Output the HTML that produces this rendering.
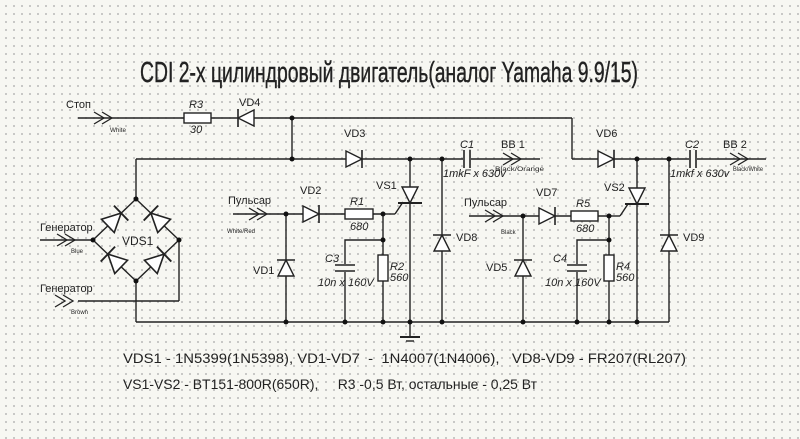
<!DOCTYPE html>
<html><head><meta charset="utf-8"><style>
html,body{margin:0;padding:0;}
body{width:800px;height:439px;overflow:hidden;background-color:#f7f7f2;
background-image:radial-gradient(circle,#b8b8b8 0.8px,transparent 1px);background-size:8px 8px;background-position:2px 2px;}
svg{position:absolute;left:0;top:0;}
text{font-family:"Liberation Sans","Noto Sans CJK SC",sans-serif;fill:#222;white-space:pre;}
</style></head><body>
<svg width="800" height="439" viewBox="0 0 800 439" xml:space="preserve">
<defs>
<g id="d"><polygon points="-8,-8 -8,8 8,0" fill="#fff" stroke="#222" stroke-width="1.4"/><line x1="8" y1="-9" x2="8" y2="9" stroke="#222" stroke-width="1.6"/></g>
<g id="ar"><polyline points="0,-6 10,0 0,6" fill="none" stroke="#222" stroke-width="1.3"/><polyline points="8,-6 18,0 8,6" fill="none" stroke="#222" stroke-width="1.3"/></g>
</defs>
<g stroke="#222" stroke-width="1.4" fill="none">
<line x1="78" y1="118" x2="572" y2="118"/>
<line x1="572" y1="118" x2="572" y2="159"/>
<line x1="292" y1="118" x2="292" y2="159"/>
<line x1="136" y1="159" x2="540" y2="159"/>
<line x1="572" y1="159" x2="766" y2="159"/>
<line x1="136" y1="159" x2="136" y2="199"/>
<polygon points="136,199 179,240 136,281 93,240"/>
<line x1="40" y1="240" x2="93" y2="240"/>
<line x1="179" y1="240" x2="179" y2="301"/>
<line x1="179" y1="301" x2="78" y2="301"/>
<line x1="136" y1="281" x2="136" y2="322"/>
<line x1="136" y1="322" x2="669" y2="322"/>
<line x1="233" y1="214" x2="383" y2="214"/>
<line x1="383" y1="214" x2="395" y2="214"/><line x1="395" y1="214" x2="403" y2="202"/>
<line x1="286" y1="214" x2="286" y2="322"/>
<line x1="383" y1="214" x2="383" y2="322"/>
<polyline points="383,240 345,240 345,322"/>
<line x1="410" y1="159" x2="410" y2="337"/>
<line x1="442" y1="159" x2="442" y2="322"/>
<line x1="400" y1="337" x2="420" y2="337" stroke-width="2"/>
<line x1="406" y1="341" x2="414" y2="341"/>
<line x1="469" y1="216" x2="609" y2="216"/>
<line x1="609" y1="216" x2="620" y2="216"/><line x1="620" y1="216" x2="628" y2="204"/>
<line x1="523" y1="216" x2="523" y2="322"/>
<line x1="609" y1="216" x2="609" y2="322"/>
<polyline points="609,240 577,240 577,322"/>
<line x1="637" y1="159" x2="637" y2="322"/>
<line x1="669" y1="159" x2="669" y2="322"/>
</g>
<g stroke="#222" stroke-width="1.4" fill="#fff">
<rect x="184" y="113" width="27" height="10"/>
<rect x="345" y="209" width="28" height="10"/>
<rect x="378" y="255" width="10" height="26"/>
<rect x="571" y="211" width="27" height="10"/>
<rect x="604" y="255" width="10" height="26"/>
<rect x="463" y="150" width="8" height="18" stroke="none" fill="#f7f7f2"/>
<rect x="689" y="150" width="8" height="18" stroke="none" fill="#f7f7f2"/>
<rect x="335" y="264" width="20" height="8" stroke="none" fill="#f7f7f2"/>
<rect x="567" y="264" width="20" height="8" stroke="none" fill="#f7f7f2"/>
</g>
<g stroke="#222" stroke-width="1.6">
<line x1="464" y1="150" x2="464" y2="168"/><line x1="470" y1="150" x2="470" y2="168"/>
<line x1="690" y1="150" x2="690" y2="168"/><line x1="696" y1="150" x2="696" y2="168"/>
<line x1="335" y1="265" x2="355" y2="265"/><line x1="335" y1="271" x2="355" y2="271"/>
<line x1="567" y1="265" x2="587" y2="265"/><line x1="567" y1="271" x2="587" y2="271"/>
</g>
<use href="#d" transform="translate(246,118) rotate(180)"/>
<use href="#d" transform="translate(354,159)"/>
<use href="#d" transform="translate(311,214)"/>
<use href="#d" transform="translate(547,216)"/>
<use href="#d" transform="translate(606,159)"/>
<use href="#d" transform="translate(286,268) rotate(-90)"/>
<use href="#d" transform="translate(523,268) rotate(-90)"/>
<use href="#d" transform="translate(442,243) rotate(-90)"/>
<use href="#d" transform="translate(669,243) rotate(-90)"/>
<use href="#d" transform="translate(410,195) rotate(90)"/>
<use href="#d" transform="translate(637,196) rotate(90)"/>
<line x1="398" y1="203" x2="422" y2="203" stroke="#222" stroke-width="2"/>
<line x1="625" y1="204" x2="649" y2="204" stroke="#222" stroke-width="2"/>
<use href="#d" transform="translate(114.5,219.5) rotate(-44) scale(1.15)"/>
<use href="#d" transform="translate(157.5,219.5) rotate(-136) scale(1.15)"/>
<use href="#d" transform="translate(114.5,260.5) rotate(-136) scale(1.15)"/>
<use href="#d" transform="translate(157.5,260.5) rotate(-44) scale(1.15)"/>
<use href="#ar" transform="translate(94,118)"/>
<use href="#ar" transform="translate(57,240)"/>
<use href="#ar" transform="translate(55,301)"/>
<use href="#ar" transform="translate(249,214)"/>
<use href="#ar" transform="translate(485,216)"/>
<use href="#ar" transform="translate(503,159)"/>
<use href="#ar" transform="translate(730,159)"/>
<g fill="#111">
<circle cx="292" cy="118" r="2.5"/><circle cx="292" cy="159" r="2.5"/>
<circle cx="410" cy="159" r="2.5"/><circle cx="442" cy="159" r="2.5"/>
<circle cx="637" cy="159" r="2.5"/><circle cx="669" cy="159" r="2.5"/>
<circle cx="136" cy="199" r="2.5"/><circle cx="136" cy="281" r="2.5"/>
<circle cx="93" cy="240" r="2.5"/><circle cx="179" cy="240" r="2.5"/>
<circle cx="286" cy="214" r="2.5"/><circle cx="383" cy="214" r="2.5"/><circle cx="383" cy="240" r="2.5"/>
<circle cx="523" cy="216" r="2.5"/><circle cx="609" cy="216" r="2.5"/><circle cx="609" cy="240" r="2.5"/>
<circle cx="286" cy="322" r="2.5"/><circle cx="345" cy="322" r="2.5"/><circle cx="383" cy="322" r="2.5"/>
<circle cx="410" cy="322" r="2.5"/><circle cx="442" cy="322" r="2.5"/><circle cx="523" cy="322" r="2.5"/>
<circle cx="577" cy="322" r="2.5"/><circle cx="609" cy="322" r="2.5"/><circle cx="637" cy="322" r="2.5"/>
</g>
<text x="140" y="82" font-size="29" textLength="498" lengthAdjust="spacingAndGlyphs" stroke="#222" stroke-width="0.4">CDI 2-х цилиндровый двигатель(аналог Yamaha 9.9/15)</text>
<g font-size="11">
<text x="66" y="108">Стоп</text>
<text x="40" y="231">Генератор</text>
<text x="40" y="292">Генератор</text>
<text x="228" y="204">Пульсар</text>
<text x="464" y="206">Пульсар</text>
<text x="239" y="106">VD4</text>
<text x="344" y="137">VD3</text>
<text x="300" y="194">VD2</text>
<text x="376" y="189">VS1</text>
<text x="253" y="274">VD1</text>
<text x="456" y="241">VD8</text>
<text x="596" y="137">VD6</text>
<text x="536" y="196">VD7</text>
<text x="604" y="191">VS2</text>
<text x="486" y="271">VD5</text>
<text x="683" y="241">VD9</text>
<text x="122" y="245" font-size="12">VDS1</text>
<text x="501" y="148">BB 1</text>
<text x="723" y="148">BB 2</text>
</g>
<g font-size="11" font-style="italic">
<text x="189" y="108">R3</text>
<text x="190" y="133">30</text>
<text x="350" y="205">R1</text>
<text x="350" y="230">680</text>
<text x="390" y="270">R2</text>
<text x="390" y="281">560</text>
<text x="325" y="262">C3</text>
<text x="318" y="286">10n x 160V</text>
<text x="576" y="207">R5</text>
<text x="576" y="232">680</text>
<text x="616" y="270">R4</text>
<text x="616" y="281">560</text>
<text x="553" y="262">C4</text>
<text x="545" y="286">10n x 160V</text>
<text x="460" y="148">C1</text>
<text x="443" y="177">1mkF x 630v</text>
<text x="685" y="148">C2</text>
<text x="670" y="177">1mkf x 630v</text>
</g>
<g font-size="6" fill="#444">
<text x="110" y="132" textLength="16" lengthAdjust="spacingAndGlyphs">White</text>
<text x="71" y="253">Blue</text>
<text x="71" y="314">Brown</text>
<text x="227" y="233" textLength="28" lengthAdjust="spacingAndGlyphs">White/Red</text>
<text x="501" y="234">Black</text>
<text x="495" y="171" textLength="49" lengthAdjust="spacingAndGlyphs">Black/Orange</text>
<text x="733" y="171" textLength="30" lengthAdjust="spacingAndGlyphs">Black/White</text>
</g>
<text x="123" y="363" font-size="14" textLength="563" lengthAdjust="spacingAndGlyphs">VDS1 - 1N5399(1N5398), VD1-VD7  -  1N4007(1N4006),   VD8-VD9 - FR207(RL207)</text>
<text x="123" y="389" font-size="14" textLength="414" lengthAdjust="spacingAndGlyphs">VS1-VS2 - BT151-800R(650R),     R3 -0,5 Вт, остальные - 0,25 Вт</text>
</svg>
</body></html>
